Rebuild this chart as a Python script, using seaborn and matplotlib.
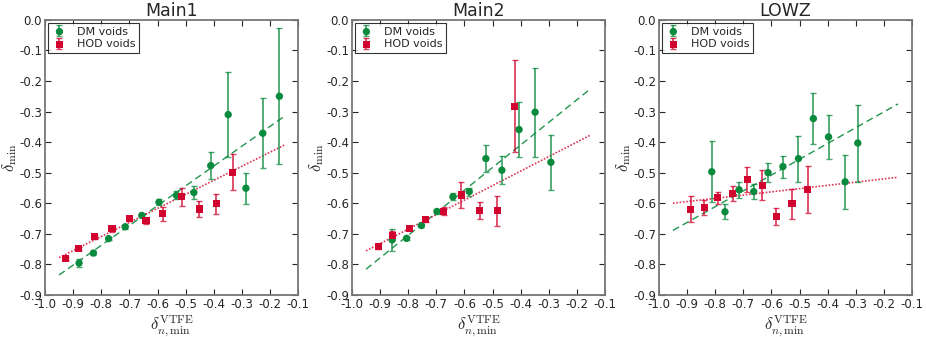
import numpy as np
import pandas as pd
import matplotlib
matplotlib.use("Agg")
import matplotlib.pyplot as plt
from matplotlib.legend_handler import HandlerTuple
import seaborn as sns

# ---- data ----
panels = ["Main1", "Main2", "LOWZ"]

main1_dm_x = [-0.879, -0.828, -0.774, -0.715, -0.656, -0.595, -0.533, -0.471, -0.411, -0.349, -0.286, -0.226, -0.167]
main1_dm_y = [-0.796, -0.763, -0.716, -0.677, -0.640, -0.597, -0.574, -0.565, -0.477, -0.310, -0.551, -0.371, -0.250]
main1_dm_err = [0.012, 0.006, 0.006, 0.006, 0.005, 0.010, 0.013, 0.020, 0.045, 0.140, 0.050, 0.115, 0.222]
main1_hod_x = [-0.926, -0.880, -0.823, -0.762, -0.701, -0.641, -0.581, -0.514, -0.452, -0.391, -0.333]
main1_hod_y = [-0.781, -0.748, -0.710, -0.684, -0.649, -0.658, -0.635, -0.579, -0.619, -0.602, -0.498]
main1_hod_err = [0.006, 0.006, 0.006, 0.010, 0.008, 0.010, 0.024, 0.029, 0.025, 0.032, 0.058]
main1_fit_dm = [-0.835, -0.316]
main1_fit_hod = [-0.778, -0.410]

main2_dm_x = [-0.857, -0.806, -0.753, -0.698, -0.641, -0.583, -0.524, -0.467, -0.406, -0.349, -0.293]
main2_dm_y = [-0.720, -0.715, -0.673, -0.627, -0.579, -0.562, -0.454, -0.492, -0.359, -0.302, -0.466]
main2_dm_err = [0.036, 0.006, 0.006, 0.008, 0.012, 0.013, 0.045, 0.045, 0.091, 0.146, 0.090]
main2_hod_x = [-0.907, -0.857, -0.797, -0.737, -0.673, -0.611, -0.546, -0.484, -0.421]
main2_hod_y = [-0.742, -0.707, -0.683, -0.654, -0.626, -0.573, -0.624, -0.625, -0.282]
main2_hod_err = [0.008, 0.015, 0.006, 0.007, 0.012, 0.042, 0.028, 0.048, 0.152]
main2_fit_dm = [-0.816, -0.224]
main2_fit_hod = [-0.756, -0.376]

lowz_dm_x = [-0.812, -0.765, -0.715, -0.663, -0.612, -0.559, -0.504, -0.451, -0.397, -0.338, -0.293]
lowz_dm_y = [-0.497, -0.628, -0.556, -0.562, -0.500, -0.480, -0.454, -0.323, -0.383, -0.530, -0.403]
lowz_dm_err = [0.100, 0.024, 0.026, 0.024, 0.030, 0.036, 0.075, 0.083, 0.073, 0.088, 0.126]
lowz_hod_x = [-0.886, -0.838, -0.791, -0.738, -0.686, -0.633, -0.583, -0.527, -0.471]
lowz_hod_y = [-0.620, -0.614, -0.582, -0.569, -0.522, -0.541, -0.643, -0.602, -0.555]
lowz_hod_err = [0.043, 0.025, 0.020, 0.025, 0.040, 0.050, 0.028, 0.050, 0.077]
lowz_fit_dm = [-0.689, -0.275]
lowz_fit_hod = [-0.600, -0.515]

fit_x = [-0.95, -0.15]

data = {
    "Main1": (main1_dm_x, main1_dm_y, main1_dm_err, main1_hod_x, main1_hod_y, main1_hod_err, main1_fit_dm, main1_fit_hod),
    "Main2": (main2_dm_x, main2_dm_y, main2_dm_err, main2_hod_x, main2_hod_y, main2_hod_err, main2_fit_dm, main2_fit_hod),
    "LOWZ": (lowz_dm_x, lowz_dm_y, lowz_dm_err, lowz_hod_x, lowz_hod_y, lowz_hod_err, lowz_fit_dm, lowz_fit_hod),
}

green = "#0a8a3c"
red = "#d0042e"

sns.set_style("ticks")
plt.rcParams["font.family"] = ["DejaVu Sans"]
plt.rcParams["mathtext.fontset"] = "cm"
plt.rcParams["axes.unicode_minus"] = False
plt.rcParams["xtick.direction"] = "in"
plt.rcParams["ytick.direction"] = "in"


def fmt(v, pos):
    if abs(v) < 1e-9:
        return "0.0"
    return "%.1f" % v


fig, axes = plt.subplots(1, 3, figsize=(9.26, 3.37), dpi=100)
fig.subplots_adjust(left=0.0486, right=0.985, bottom=0.125, top=0.941, wspace=0.212)

for ax, name in zip(axes, panels):
    dx, dy, de, hx, hy, he, fdm, fhod = data[name]

    # fit lines
    sns.lineplot(x=fit_x, y=fdm, ax=ax, color=green, lw=1.0, ls=(0, (5, 3)), alpha=0.9)
    sns.lineplot(x=fit_x, y=fhod, ax=ax, color=red, lw=1.2, ls=(0, (1, 1)), alpha=0.8)

    eb_dm = ax.errorbar(dx, dy, yerr=de, fmt="none", ecolor=green, elinewidth=1.3,
                        capsize=2, capthick=1, alpha=0.75)
    sns.scatterplot(x=dx, y=dy, ax=ax, color=green, marker="o", s=28, edgecolor="none", zorder=3)
    sc_dm = ax.collections[-1]
    eb_hod = ax.errorbar(hx, hy, yerr=he, fmt="none", ecolor=red, elinewidth=1.3,
                         capsize=2, capthick=1, alpha=0.75)
    sns.scatterplot(x=hx, y=hy, ax=ax, color=red, marker="s", s=26, edgecolor="none", zorder=3)
    sc_hod = ax.collections[-1]

    ax.set_xlim(-1.0, -0.1)
    ax.set_ylim(-0.9, 0.0)
    ax.set_xticks(np.arange(-1.0, -0.05, 0.1))
    ax.set_yticks(np.arange(-0.9, 0.05, 0.1))
    ax.xaxis.set_major_formatter(matplotlib.ticker.FuncFormatter(fmt))
    ax.yaxis.set_major_formatter(matplotlib.ticker.FuncFormatter(fmt))
    ax.tick_params(labelsize=8.5, length=4, width=0.8, top=True, right=True, pad=2)
    for sp in ax.spines.values():
        sp.set_visible(True)
        sp.set_color("#777777")
        sp.set_linewidth(1.3)

    ax.set_title(name, fontsize=12.5, pad=3)
    ax.set_xlabel(r"$\delta_{n,\rm min}^{\rm VTFE}$", fontsize=12, labelpad=2)
    ax.set_ylabel(r"$\delta_{\rm min}$", fontsize=12, labelpad=0)

    leg = ax.legend([(eb_dm, sc_dm), (eb_hod, sc_hod)], ["DM voids", "HOD voids"],
                    handler_map={tuple: HandlerTuple(ndivide=1, pad=0)},
                    loc="upper left", fontsize=8, frameon=True, fancybox=False,
                    handlelength=1.4, borderpad=0.3, labelspacing=0.25,
                    borderaxespad=0.3, handletextpad=0.9)
    leg.get_frame().set_edgecolor("black")
    leg.get_frame().set_linewidth(0.8)

fig.savefig("out.png", dpi=100)
